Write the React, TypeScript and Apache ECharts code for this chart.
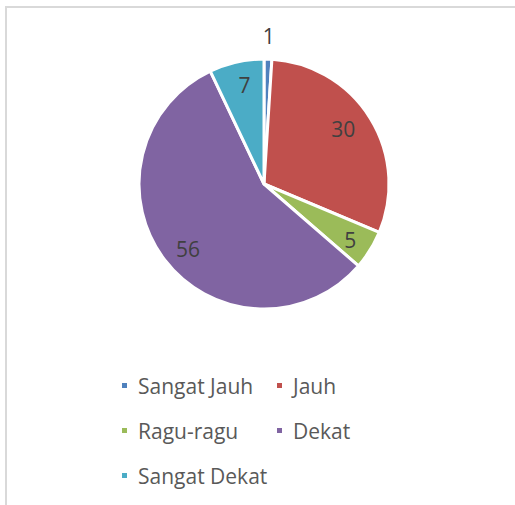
import React, { useEffect, useRef } from "react";
import * as echarts from "echarts";

const categories = ["Sangat Jauh", "Jauh", "Ragu-ragu", "Dekat", "Sangat Dekat"];
const values = [1, 30, 5, 56, 7];
const colors = ["#4F81BD", "#C0504D", "#9BBB59", "#8064A2", "#4BACC6"];
const legendLeftCol = ["Sangat Jauh", "Ragu-ragu", "Sangat Dekat"];
const legendRightCol = ["Jauh", "Dekat"];
const outsideLabelIdx = [0];

const FONT = "'Open Sans', 'Noto Sans', sans-serif";

export default function App() {
  const ref = useRef<HTMLDivElement>(null);
  useEffect(() => {
    if (!ref.current) return;
    const chart = echarts.init(ref.current, null, { renderer: "svg" });
    const data = categories.map((name, i) => ({ name, value: values[i] }));
    const labelText = {
      fontFamily: FONT,
      fontSize: 21,
      color: "#404040",
    };
    const labelNudge: Record<string, number[]> = {
      Jauh: [-4, -3],
      "Ragu-ragu": [3, 4],
      Dekat: [2, 6],
      "Sangat Dekat": [2, -3],
    };
    const legendBase = {
      orient: "vertical" as const,
      top: 375,
      padding: 0,
      itemWidth: 7,
      itemHeight: 7,
      itemGap: 24,
      icon: "rect",
      selectedMode: false,
      textStyle: {
        fontFamily: FONT,
        fontSize: 21,
        lineHeight: 21,
        color: "#595959",
        padding: [0, 0, 0, 5],
      },
    };
    chart.setOption({
      animation: false,
      color: colors,
      graphic: [
        {
          type: "rect",
          shape: { x: 6, y: 7, width: 600, height: 600 },
          style: { fill: "none", stroke: "#d9d9d9", lineWidth: 2 },
          silent: true,
        },
      ],
      legend: [
        { ...legendBase, left: 120, data: legendLeftCol },
        { ...legendBase, left: 275, data: legendRightCol },
      ],
      series: [
        {
          type: "pie",
          center: [264, 184],
          radius: 125,
          startAngle: 90,
          clockwise: true,
          silent: true,
          label: { show: false },
          labelLine: { show: false },
          itemStyle: { borderColor: "#ffffff", borderWidth: 3 },
          data: data.map((d, i) => ({ ...d, itemStyle: { color: colors[i] } })),
        },
        {
          type: "pie",
          center: [264, 184],
          radius: 190,
          startAngle: 90,
          silent: true,
          itemStyle: { color: "transparent" },
          labelLine: { show: false },
          label: { show: true, position: "inside", formatter: "{c}", ...labelText },
          data: data.map((d, i) => ({
            ...d,
            label: {
              show: !outsideLabelIdx.includes(i),
              offset: labelNudge[d.name] || [0, 0],
            },
          })),
        },
        {
          type: "pie",
          center: [264, 184],
          radius: 290,
          startAngle: 90,
          silent: true,
          itemStyle: { color: "transparent" },
          labelLine: { show: false },
          label: { show: true, position: "inside", formatter: "{c}", ...labelText },
          data: data.map((d, i) => ({
            ...d,
            label: { show: outsideLabelIdx.includes(i) },
          })),
        },
      ],
    });
    return () => chart.dispose();
  }, []);
  return (
    <div
      ref={ref}
      style={{ position: "fixed", left: 0, top: 0, width: 515, height: 505, background: "#fff" }}
    />
  );
}
